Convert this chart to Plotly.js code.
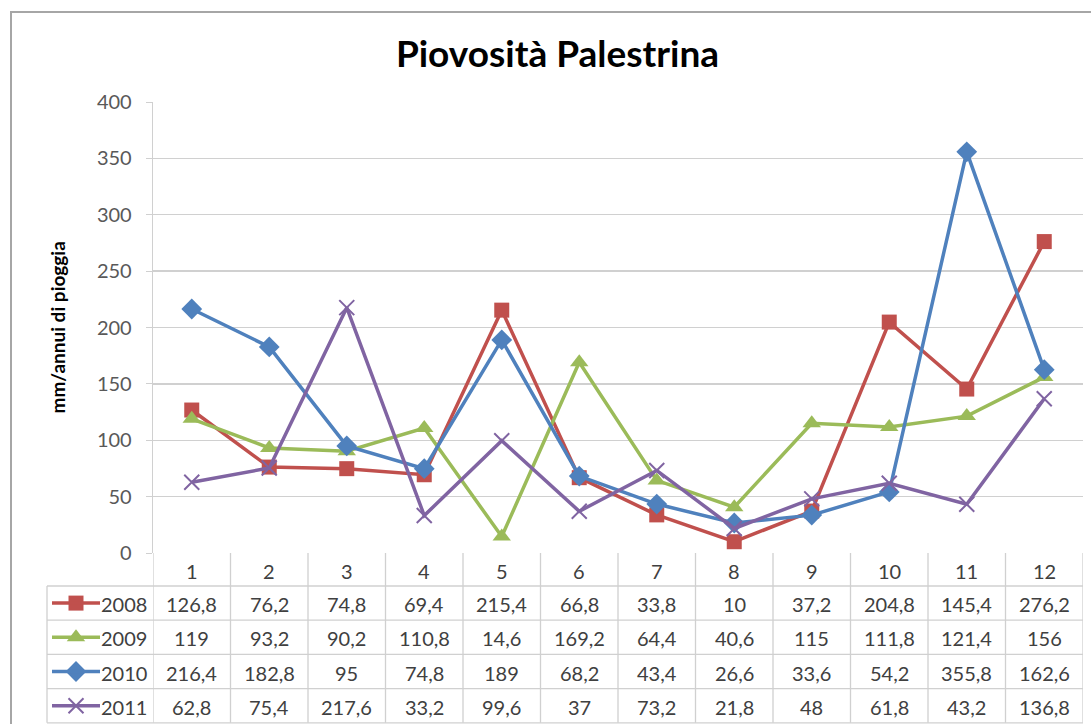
<!DOCTYPE html>
<html>
<head>
<meta charset="utf-8">
<script src="https://cdn.plot.ly/plotly-3.0.1.min.js"></script>
<style>html,body{margin:0;padding:0;background:#fff;}#chart{width:1091px;height:724px;}</style>
</head>
<body>
<div id="chart"></div>
<script>
const months = [1,2,3,4,5,6,7,8,9,10,11,12];
const seriesNames = ["2008","2009","2010","2011"];
const v2008 = [126.8,76.2,74.8,69.4,215.4,66.8,33.8,10,37.2,204.8,145.4,276.2];
const v2009 = [119,93.2,90.2,110.8,14.6,169.2,64.4,40.6,115,111.8,121.4,156];
const v2010 = [216.4,182.8,95,74.8,189,68.2,43.4,26.6,33.6,54.2,355.8,162.6];
const v2011 = [62.8,75.4,217.6,33.2,99.6,37,73.2,21.8,48,61.8,43.2,136.8];
const yTicks = [0,50,100,150,200,250,300,350,400];

const values = [v2008, v2009, v2010, v2011];
const colors = ["#C0504D","#9BBB59","#4F81BD","#8064A2"];
const symbols = ["square","triangle-up","diamond","x-thin-open"];
const msize = [15,16,16,15];

const W = 1091, H = 724;
const PX = x => x / W;
const PY = y => 1 - y / H;
const FONT = "Lato, 'Open Sans', sans-serif";
const TXT = "#404040";
const GRID = "#d0d0d0";
const TFS = 20;

const plotTop = 102, plotBot = 553, plotL = 153, plotR = 1083;
const rowH = 34.2, headerBot = 586;
const tableL = 47;

const mk = i => ({symbol: symbols[i], size: msize[i], color: colors[i],
  line: {color: colors[i], width: symbols[i].indexOf("x") === 0 ? 2 : 0}});

const traces = [];
values.forEach((vals, i) => {
  traces.push({
    type: "scatter", mode: "lines+markers",
    x: months, y: vals, name: seriesNames[i],
    line: {color: colors[i], width: 3.5},
    marker: mk(i),
    xaxis: "x", yaxis: "y", cliponaxis: false, showlegend: false
  });
});

const shapes = [];
const annotations = [];

// outer frame
shapes.push({type: "rect", xref: "paper", yref: "paper",
  x0: PX(11), x1: 1.05, y0: PY(12), y1: -0.05,
  line: {color: "#a6a6a6", width: 2}, fillcolor: "rgba(0,0,0,0)"});

// table horizontal lines
const rowTops = [headerBot];
for (let r = 1; r <= seriesNames.length; r++) rowTops.push(headerBot + r * rowH);
rowTops.forEach(y => {
  shapes.push({type: "line", xref: "paper", yref: "paper",
    x0: PX(tableL), x1: PX(plotR), y0: PY(y), y1: PY(y),
    line: {color: GRID, width: 1.3}});
});
// table vertical lines (column boundaries from category scale)
for (let k = 0; k <= months.length; k++) {
  shapes.push({type: "line", xref: "x", yref: "paper",
    x0: k + 0.5, x1: k + 0.5, y0: PY(plotBot), y1: PY(rowTops[rowTops.length - 1]),
    line: {color: GRID, width: 1.3}});
}
// legend column left border
shapes.push({type: "line", xref: "paper", yref: "paper",
  x0: PX(tableL), x1: PX(tableL), y0: PY(headerBot), y1: PY(rowTops[rowTops.length - 1]),
  line: {color: GRID, width: 1.3}});

const cellFont = {family: FONT, size: TFS, color: TXT};

// header numbers
months.forEach(m => {
  annotations.push({xref: "x", yref: "paper", x: m, y: PY((plotBot + headerBot) / 2 + 1),
    xanchor: "center", yanchor: "middle",
    text: String(m), showarrow: false, font: cellFont});
});

// data cells + legend keys
values.forEach((vals, i) => {
  const cy = headerBot + (i + 0.5) * rowH;
  vals.forEach((v, j) => {
    annotations.push({xref: "x", yref: "paper", x: months[j], y: PY(cy + 1),
      xanchor: "center", yanchor: "middle",
      text: String(v).replace(".", ","), showarrow: false, font: cellFont});
  });
  annotations.push({xref: "paper", yref: "paper", x: PX(99), y: PY(cy + 1),
    xanchor: "left", yanchor: "middle",
    text: seriesNames[i], showarrow: false, font: cellFont});
  shapes.push({type: "line", xref: "paper", yref: "paper",
    x0: PX(52), x1: PX(100), y0: PY(cy), y1: PY(cy),
    line: {color: colors[i], width: 3.5}});
});
values.forEach((vals, i) => {
  traces.push({
    type: "scatter", mode: "markers",
    x: [76], y: [headerBot + (i + 0.5) * rowH],
    marker: mk(i),
    xaxis: "x2", yaxis: "y2", showlegend: false, hoverinfo: "skip", cliponaxis: false
  });
});

// y axis title
annotations.push({xref: "paper", yref: "paper", x: PX(57), y: PY((plotTop + plotBot) / 2),
  xanchor: "center", yanchor: "middle",
  text: "<b>mm/annui di pioggia</b>", textangle: -90, showarrow: false,
  font: {family: FONT, size: 19, color: "#000"}});

const layout = {
  width: W, height: H,
  margin: {l: 0, r: 0, t: 0, b: 0},
  paper_bgcolor: "#ffffff", plot_bgcolor: "rgba(0,0,0,0)",
  title: {text: "<b>Piovosità Palestrina</b>", x: 0.511, xanchor: "center",
          y: PY(54), yanchor: "middle", font: {family: FONT, size: 37, color: "#000"}},
  xaxis: {domain: [PX(plotL), PX(plotR)], range: [0.5, 12.5], showgrid: false,
          zeroline: false, showticklabels: false, ticks: "", showline: false, fixedrange: true},
  yaxis: {domain: [PY(plotBot), PY(plotTop)], range: [0, 400], tickvals: yTicks,
          ticktext: yTicks.map(String), showgrid: true, gridcolor: GRID, gridwidth: 1.3,
          zeroline: false, showline: true, linecolor: GRID, linewidth: 1.3,
          ticks: "outside", ticklen: 6, tickcolor: GRID, ticklabelstandoff: 10,
          tickfont: {family: FONT, size: 20, color: "#595959"}, fixedrange: true},
  xaxis2: {domain: [0, 1], range: [0, W], visible: false, anchor: "y2", fixedrange: true},
  yaxis2: {domain: [0, 1], range: [H, 0], visible: false, anchor: "x2", fixedrange: true},
  shapes: shapes, annotations: annotations, showlegend: false
};

Plotly.newPlot("chart", traces, layout, {displayModeBar: false, staticPlot: true});
</script>
</body>
</html>
